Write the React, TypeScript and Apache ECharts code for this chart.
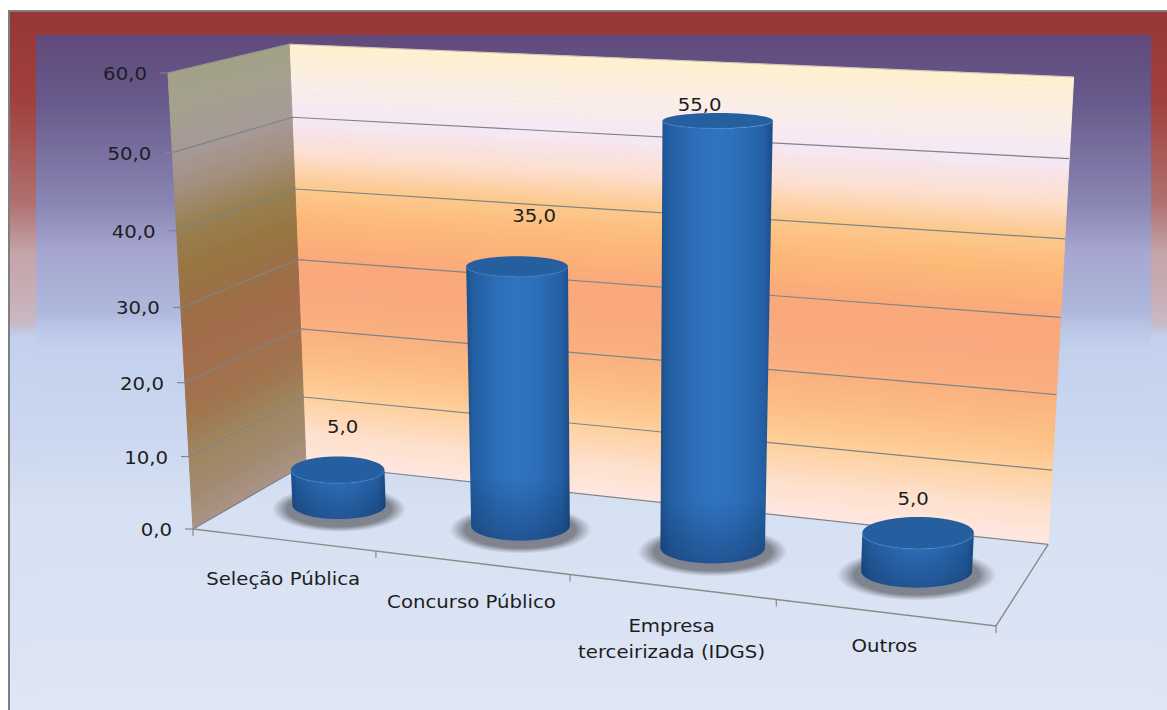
import React, { useEffect, useRef } from "react";
import * as echarts from "echarts";

const categories = ["Seleção Pública", "Concurso Público", "Empresa\nterceirizada (IDGS)", "Outros"];
const values = [5, 35, 55, 5];
const yTicks = [0, 10, 20, 30, 40, 50, 60];
const yTickLabels = ["0,0", "10,0", "20,0", "30,0", "40,0", "50,0", "60,0"];

const WIDTH = 1167;
const HEIGHT = 710;
const FONT = "'DejaVu Sans', sans-serif";
const TEXT = "#1d1d22";
const LINE = "#7e8488";
const TEXT_STRETCH = 1.16;

// Perspective of the chart box: u runs along the categories, v up the value
// axis and w into the depth; (0,0,0) is the front-left corner of the floor.
const O = [193, 529];
const U = [996, 626];
const V = [168, 73];
const W = [306, 464];
const PERSP = { a: -0.115, b: -0.055, c: 0.09 };

function project(u: number, v: number, w: number): number[] {
  const { a, b, c } = PERSP;
  const den = a * u + b * v + c * w + 1;
  return [0, 1].map((k) => {
    const A = (a + 1) * U[k] - O[k];
    const B = (b + 1) * V[k] - O[k];
    const C = (c + 1) * W[k] - O[k];
    return (A * u + B * v + C * w + O[k]) / den;
  });
}

// Wall shading, listed from the floor up to the top of the value axis.
const backWallStops: [number, string][] = [
  [0, "#ffe7e2"], [0.08, "#fee0cc"], [0.17, "#fecf9c"], [0.25, "#fdbf84"],
  [0.33, "#fab180"], [0.42, "#f9a97e"], [0.5, "#faa97a"], [0.6, "#fdba78"],
  [0.67, "#fdc98c"], [0.75, "#fddfd0"], [0.83, "#f5e8f6"], [0.92, "#fbefe6"], [1, "#fff0cf"],
];
const sideWallStops: [number, string][] = [
  [0, "#ab9488"], [0.08, "#a28a70"], [0.17, "#9f8560"], [0.25, "#a0764f"],
  [0.33, "#a2704c"], [0.42, "#a26c4a"], [0.5, "#9c7046"], [0.58, "#997542"],
  [0.67, "#998050"], [0.75, "#a38f7c"], [0.83, "#a69a98"], [0.92, "#a5a08f"], [1, "#a3a287"],
];

function shade(stops: [number, string][], t: number): string {
  let i = 0;
  while (i < stops.length - 2 && t > stops[i + 1][0]) i++;
  const [t0, c0] = stops[i];
  const [t1, c1] = stops[i + 1];
  const f = Math.min(1, Math.max(0, (t - t0) / (t1 - t0)));
  const ch = (c: string, k: number) => parseInt(c.slice(1 + k * 2, 3 + k * 2), 16);
  return `rgb(${[0, 1, 2].map((k) => Math.round(ch(c0, k) + (ch(c1, k) - ch(c0, k)) * f)).join(",")})`;
}

const STRIPS = 96;
const RADIUS_U = 0.066;
const RADIUS_W = 0.21;
// Value labels sit freely above their cylinders; category labels below the edge.
const valueLabelNudge = [[5, -43], [17, -50], [-18, -16], [-5, -34]];
const categoryLabelDrop = [26, 26, 26, 20];

const linearV = (top: string, bottom: string) => ({
  type: "linear", x: 0, y: 0, x2: 0, y2: 1,
  colorStops: [{ offset: 0, color: top }, { offset: 1, color: bottom }],
});

const stretchedText = (x: number, y: number, text: string, align: string, verticalAlign: string) => ({
  type: "text",
  x,
  y,
  scaleX: TEXT_STRETCH,
  style: { x: 0, y: 0, text, font: `17px ${FONT}`, fill: TEXT, align, verticalAlign, lineHeight: 26 },
});

function renderBox(params: any, api: any) {
  const sys = params.coordSys;
  const toV = (val: number) => (sys.y + sys.height - api.coord([0, val])[1]) / sys.height;
  const bandU = api.size([1, 0])[0] / sys.width;
  const children: any[] = [];
  const poly = (pts: number[][], color: string) => ({
    type: "polygon",
    shape: { points: pts },
    style: { fill: color, stroke: color, lineWidth: 1 },
  });
  for (let i = 0; i < STRIPS; i++) {
    const v0 = i / STRIPS;
    const v1 = (i + 1) / STRIPS;
    const m = (v0 + v1) / 2;
    children.push(poly([project(0, v0, 1), project(1, v0, 1), project(1, v1, 1), project(0, v1, 1)], shade(backWallStops, m)));
    children.push(poly([project(0, v0, 0), project(0, v0, 1), project(0, v1, 1), project(0, v1, 0)], shade(sideWallStops, m)));
  }
  const line = (pts: number[][], stroke = LINE, lineWidth = 1.2) => ({
    type: "polyline",
    shape: { points: pts },
    style: { stroke, lineWidth, fill: "none" },
  });
  yTicks.forEach((t, i) => {
    const v = toV(t);
    const front = project(0, v, 0);
    const isTop = i === yTicks.length - 1;
    children.push(line([project(0, v, 0), project(0, v, 1), project(1, v, 1)], isTop ? "rgba(126,132,136,0.35)" : LINE));
    children.push(line([[front[0] - 8, front[1]], front]));
    children.push(stretchedText(front[0] - 21, front[1] + 1, yTickLabels[i], "right", "middle"));
  });
  // Floor outline and the category ticks along its front edge.
  children.push(line([project(0, 0, 0), project(1, 0, 0), project(1, 0, 1)], "#8b8b88", 1.4));
  for (let k = 0; k <= categories.length; k++) {
    const p = project(k * bandU, 0, 0);
    children.push(line([p, [p[0], p[1] + 7]], "#8b8b88"));
  }
  return { type: "group", children };
}

function renderCylinder(params: any, api: any) {
  const sys = params.coordSys;
  const idx = api.value(0);
  const val = api.value(1);
  const base = api.coord([idx, 0]);
  const top = api.coord([idx, val]);
  const u = (base[0] - sys.x) / sys.width;
  const v = (sys.y + sys.height - top[1]) / sys.height;
  const w = 0.5;

  // Each end of a cylinder is drawn as an upright ellipse whose size follows the perspective.
  const end = (level: number) => {
    const c = project(u, level, w);
    const rx = (project(u + RADIUS_U, level, w)[0] - project(u - RADIUS_U, level, w)[0]) / 2;
    const ry = (project(u, level, w - RADIUS_W)[1] - project(u, level, w + RADIUS_W)[1]) / 2;
    return { c, rx, ry };
  };
  const frontArc = (e: { c: number[]; rx: number; ry: number }, n = 48) => {
    const pts: number[][] = [];
    for (let i = 0; i <= n; i++) {
      const th = Math.PI - (Math.PI * i) / n;
      pts.push([e.c[0] + e.rx * Math.cos(th), e.c[1] + e.ry * Math.sin(th)]);
    }
    return pts;
  };
  const bottom = end(0);
  const cap = end(v);
  const baseFront = frontArc(bottom);
  const capFront = frontArc(cap);
  const lowest = bottom.c[1] + bottom.ry;
  const glowTop = Math.max(cap.c[1], lowest - 64);
  const xl = bottom.c[0] - bottom.rx;
  const xr = bottom.c[0] + bottom.rx;

  return {
    type: "group",
    children: [
      {
        type: "ellipse",
        shape: { cx: bottom.c[0], cy: bottom.c[1] + 4, rx: bottom.rx * 1.44, ry: bottom.ry + 9 },
        style: {
          fill: {
            type: "radial", x: 0.5, y: 0.5, r: 0.5,
            colorStops: [
              { offset: 0, color: "rgba(118,122,132,0.95)" },
              { offset: 0.78, color: "rgba(118,122,132,0.9)" },
              { offset: 1, color: "rgba(130,134,146,0)" },
            ],
          },
        },
      },
      {
        type: "polygon",
        shape: { points: [...baseFront, ...capFront.slice().reverse()] },
        style: {
          fill: {
            type: "linear", x: 0, y: 0, x2: 1, y2: 0,
            colorStops: [
              { offset: 0, color: "#1c4f8c" },
              { offset: 0.08, color: "#235fa2" },
              { offset: 0.3, color: "#2c6eb8" },
              { offset: 0.5, color: "#2f74c0" },
              { offset: 0.7, color: "#2c6eb8" },
              { offset: 0.92, color: "#235fa2" },
              { offset: 1, color: "#1b4c86" },
            ],
          },
        },
      },
      {
        type: "polygon",
        shape: { points: [...baseFront, [xr, glowTop], [xl, glowTop]] },
        style: { fill: linearV("rgba(16,40,84,0)", "rgba(16,40,84,0.4)") },
      },
      {
        type: "ellipse",
        shape: { cx: cap.c[0], cy: cap.c[1], rx: cap.rx, ry: cap.ry },
        style: { fill: "#255f9f" },
      },
      {
        type: "polyline",
        shape: { points: capFront },
        style: { stroke: "rgba(70,140,215,0.35)", lineWidth: 1.5, fill: "none" },
      },
      stretchedText(
        cap.c[0] + valueLabelNudge[idx][0],
        cap.c[1] + valueLabelNudge[idx][1],
        val.toFixed(1).replace(".", ","),
        "center",
        "middle",
      ),
      stretchedText(
        project(u, 0, 0)[0],
        project(u, 0, 0)[1] + categoryLabelDrop[idx],
        categories[idx],
        "center",
        "top",
      ),
    ],
  };
}

export default function App() {
  const ref = useRef<HTMLDivElement>(null);
  useEffect(() => {
    const chart = echarts.init(ref.current!, null, { renderer: "svg" });
    chart.setOption({
      animation: false,
      graphic: [
        {
          type: "rect", z: -10, silent: true,
          shape: { x: 9, y: 11, width: WIDTH, height: HEIGHT },
          style: {
            fill: {
              type: "linear", x: 0, y: 0, x2: 0, y2: 1,
              colorStops: [
                { offset: 0, color: "#953735" },
                { offset: 0.13, color: "#a0413f" },
                { offset: 0.27, color: "#b07070" },
                { offset: 0.34, color: "#c4a4a8" },
                { offset: 0.41, color: "#c8b0b8" },
                { offset: 0.44, color: "#c8bac8" },
                { offset: 0.46, color: "#c3d1ed" },
                { offset: 0.628, color: "#cdd9f0" },
                { offset: 0.69, color: "#d5e0f2" },
                { offset: 1, color: "#dfe6f5" },
              ],
            },
            stroke: "#7f7f7f", lineWidth: 2,
          },
        },
        {
          type: "rect", z: -9, silent: true,
          shape: { x: 36, y: 35, width: 1115, height: 675 },
          style: {
            fill: {
              type: "linear", x: 0, y: 0, x2: 0, y2: 1,
              colorStops: [
                { offset: 0, color: "#604a7b" },
                { offset: 0.1, color: "#685a8c" },
                { offset: 0.25, color: "#8a86b4" },
                { offset: 0.32, color: "#a6a6cf" },
                { offset: 0.41, color: "#aeb8dc" },
                { offset: 0.437, color: "#bcc8e8" },
                { offset: 0.467, color: "#c3d1ed" },
                { offset: 0.615, color: "#cdd9f0" },
                { offset: 0.69, color: "#d5e0f2" },
                { offset: 1, color: "#dfe6f5" },
              ],
            },
          },
        },
      ],
      grid: { left: 0, top: 0, width: 1000, height: 600 },
      xAxis: { type: "category", data: categories, show: false },
      yAxis: { type: "value", min: 0, max: 60, interval: 10, show: false },
      series: [
        {
          type: "custom", silent: true, z: 1, clip: false,
          renderItem: renderBox,
          data: [[0, 0]],
          encode: { x: 0, y: 1 },
        },
        {
          type: "custom", silent: true, z: 2, clip: false,
          renderItem: renderCylinder,
          data: values.map((val, i) => [i, val]),
          encode: { x: 0, y: 1 },
        },
      ],
    });
    return () => chart.dispose();
  }, []);
  return (
    <div
      ref={ref}
      style={{ position: "fixed", left: 0, top: 0, width: WIDTH, height: HEIGHT, background: "#fff" }}
    />
  );
}
